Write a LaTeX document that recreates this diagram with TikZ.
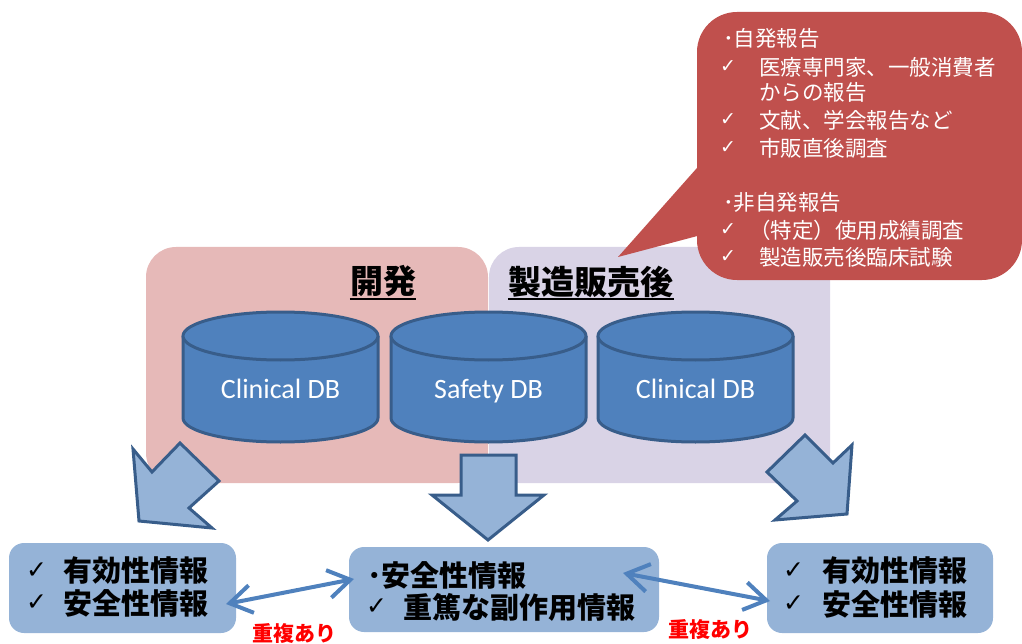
\documentclass[tikz,border=0pt]{standalone}
\usepackage{fontspec}
\usetikzlibrary{arrows.meta}
\setmainfont{Noto Sans CJK JP}
\newfontfamily\calfont{Carlito}
\newfontfamily\symfont{DejaVu Sans}
\definecolor{pinkbox}{HTML}{E6B9B8}
\definecolor{lavbox}{HTML}{D9D3E6}
\definecolor{cylfill}{HTML}{4F81BD}
\definecolor{cylline}{HTML}{385D8A}
\definecolor{lightblue}{HTML}{95B3D7}
\definecolor{calloutred}{HTML}{C0504D}
\definecolor{arrowblue}{HTML}{4F81BD}
\begin{document}
\begin{tikzpicture}[x=1pt,y=-1pt,
  area/.style={rectangle, rounded corners=30pt, inner sep=0, minimum height=236pt},
  infobox/.style={rectangle, rounded corners=15pt, fill=lightblue, inner sep=0},
  cylbody/.style={fill=cylfill, draw=cylline, line width=3pt},
  cyltext/.style={anchor=base, inner sep=0, text=white, font=\calfont\fontsize{28}{32}\selectfont},
  heading/.style={inner sep=0, font=\bfseries\fontsize{33}{36}\selectfont},
  blockarrow/.style={fill=lightblue, draw=cylline, line width=3pt, line join=miter},
  ctext/.style={anchor=west, inner sep=0, text=white, font=\fontsize{21.5}{26}\selectfont},
  ccheck/.style={anchor=west, inner sep=0, text=white, font=\symfont\bfseries\fontsize{19}{22}\selectfont},
  btext/.style={anchor=west, inner sep=0, font=\bfseries\fontsize{29}{32}\selectfont},
  bcheck/.style={anchor=west, inner sep=0, font=\symfont\fontsize{25}{28}\selectfont},
  dup/.style={inner sep=0, text=red, font=\bfseries\fontsize{21}{24}\selectfont},
  dblarrow/.style={draw=arrowblue, line width=4pt,
    {Straight Barb[length=22pt,width=28pt]}-{Straight Barb[length=22pt,width=28pt]}}
]
\useasboundingbox (0,0) rectangle (1022,644);

% phase areas
\node[area, fill=pinkbox, minimum width=342pt] (dev) at (317,365) {};
\node[area, fill=lavbox, minimum width=341pt] (post) at (659.5,365) {};
\node[heading] (hdev) at (383,281.5) {開発};
\node[heading] (hpost) at (591,281.5) {製造販売後};
\draw[line width=2pt] ([yshift=-1.5pt]hdev.south west) -- ([yshift=-1.5pt]hdev.south east);
\draw[line width=2pt] ([yshift=-1.5pt]hpost.south west) -- ([yshift=-1.5pt]hpost.south east);

% databases
\foreach \cx/\nm/\lbl in {280.5/db1/Clinical DB, 488.5/db2/Safety DB, 695.5/db3/Clinical DB}{
  \path[cylbody] (\cx-97.5,336) -- (\cx-97.5,418)
     arc[start angle=180, end angle=0, x radius=97.5, y radius=24] -- (\cx+97.5,336);
  \path[cylbody] (\cx,336) ellipse [x radius=97.5, y radius=24];
  \node[cyltext] (\nm) at (\cx,398) {\lbl};
}

% callout
\fill[calloutred] (618,257) -- (720,142) -- (720,230) -- cycle;
\node[rectangle, rounded corners=40pt, fill=calloutred, inner sep=0,
      minimum width=325pt, minimum height=268pt] (callout) at (859.5,146) {};
\node[ctext] (c1) at (723,38) {･自発報告};
\node[ccheck] (k2) at (720,67) {✓};
\node[ctext] (c2) at (759,67) {医療専門家、一般消費者};
\node[ctext] (c3) at (759,92) {からの報告};
\node[ccheck] (k4) at (720,120) {✓};
\node[ctext] (c4) at (759,120) {文献、学会報告など};
\node[ccheck] (k5) at (720,148) {✓};
\node[ctext] (c5) at (759,148) {市販直後調査};
\node[ctext] (c6) at (723,202) {･非自発報告};
\node[ccheck] (k7) at (720,230) {✓};
\node[ctext] (c7) at (749,230) {（特定）使用成績調査};
\node[ccheck] (k8) at (720,257) {✓};
\node[ctext] (c8) at (759,257) {製造販売後臨床試験};

% block arrows
\path[blockarrow] (133,449) -- (152,472) -- (180,443) -- (219,481) -- (189,508) -- (212,528) -- (139,521) -- cycle;
\path[blockarrow] (461,455) -- (516,455) -- (516,495) -- (544,495) -- (488,540) -- (432,495) -- (461,495) -- cycle;
\path[blockarrow] (805,435) -- (833,463) -- (852,445) -- (847,514) -- (775,520) -- (797,501) -- (767,472) -- cycle;

% result boxes
\node[infobox, minimum width=227pt, minimum height=90pt] (left) at (122.5,588) {};
\node[infobox, minimum width=310pt, minimum height=85pt] (mid) at (504,589.5) {};
\node[infobox, minimum width=226pt, minimum height=90pt] (right) at (880,588) {};

\node[bcheck] (lk1) at (26,571) {✓};
\node[btext] (lt1) at (63,571) {有効性情報};
\node[bcheck] (lk2) at (26,603) {✓};
\node[btext] (lt2) at (63,603) {安全性情報};

\node[btext] (mt1) at (367,575) {･安全性情報};
\node[bcheck] (mk2) at (366,607) {✓};
\node[btext] (mt2) at (403,607) {重篤な副作用情報};

\node[bcheck] (rk1) at (783,571) {✓};
\node[btext] (rt1) at (822,571) {有効性情報};
\node[bcheck] (rk2) at (783,604) {✓};
\node[btext] (rt2) at (822,604) {安全性情報};

% overlap arrows
\coordinate (la) at (226,604);
\coordinate (ma) at (354,579);
\coordinate (mb) at (623,573);
\coordinate (ra) at (770,601);
\draw[dblarrow] (la) -- (ma);
\draw[dblarrow] (mb) -- (ra);
\node[dup] (d1) at (294,634) {重複あり};
\node[dup] (d2) at (710,630) {重複あり};
\end{tikzpicture}
\end{document}
